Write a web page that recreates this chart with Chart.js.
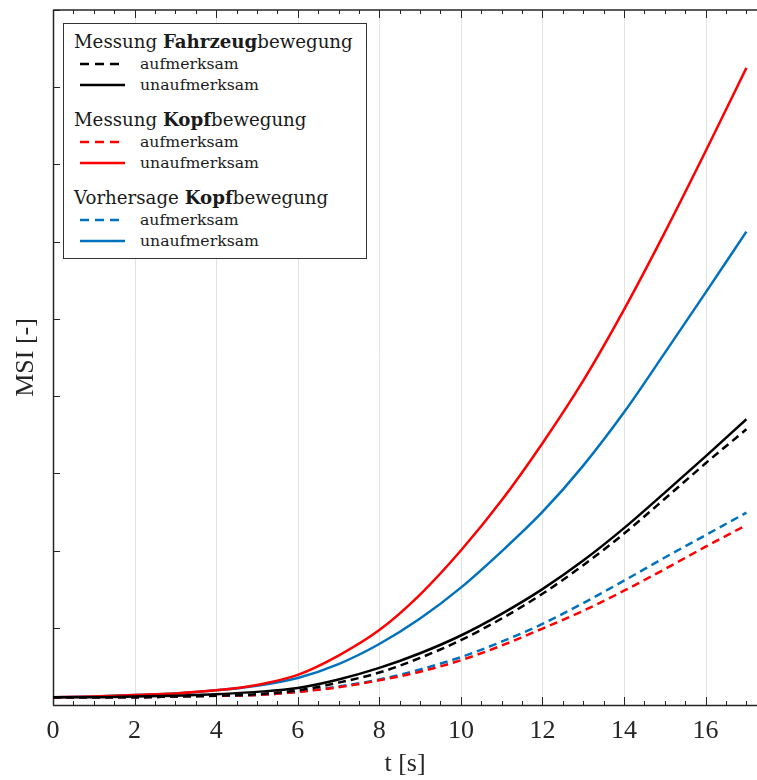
<!DOCTYPE html>
<html>
<head>
<meta charset="utf-8">
<script src="https://cdn.jsdelivr.net/npm/chart.js@4.4.1/dist/chart.umd.min.js"></script>
<style>
html, body { margin: 0; padding: 0; background: #fff; overflow: hidden; }
#wrap { position: relative; width: 757px; height: 780px; overflow: hidden; }
#msiChart { display: block; }
#legende {
    position: absolute; left: 63px; top: 23px; width: 304px; height: 236px;
    box-sizing: border-box; border: 1.5px solid #333; background: #fff;
    padding: 7px 0 0 10px; font-family: "DejaVu Serif", serif; color: #1a1a1a;
}
#legende .titel { font-size: 18.2px; line-height: 22px; white-space: nowrap; }
#legende .gruppe + .gruppe { margin-top: 14px; }
#legende .eintrag { font-size: 15.7px; line-height: 21px; height: 21px; display: flex; align-items: center; white-space: nowrap; }
#legende svg { margin-left: 6px; margin-right: 15px; }
</style>
</head>
<body>
<div id="wrap">
    <canvas id="msiChart" width="757" height="780"></canvas>
    <div id="legende"></div>
</div>
<script>
// Zeitachse in Sekunden
const zeit = [0, 1, 2, 3, 4, 5, 6, 7, 8, 9, 10, 11, 12, 13, 14, 15, 16, 17];

// MSI-Verläufe
const fahrzeugAufmerksam   = [0.10, 0.10, 0.10, 0.11, 0.12, 0.14, 0.19, 0.29, 0.42, 0.61, 0.84, 1.12, 1.44, 1.81, 2.22, 2.67, 3.13, 3.57];
const fahrzeugUnaufmerksam = [0.10, 0.10, 0.11, 0.12, 0.14, 0.17, 0.22, 0.33, 0.48, 0.67, 0.90, 1.18, 1.50, 1.87, 2.29, 2.75, 3.22, 3.70];
const kopfAufmerksam       = [0.10, 0.10, 0.10, 0.11, 0.12, 0.13, 0.17, 0.23, 0.32, 0.43, 0.58, 0.77, 0.99, 1.22, 1.48, 1.76, 2.05, 2.33];
const kopfUnaufmerksam     = [0.10, 0.11, 0.13, 0.15, 0.19, 0.26, 0.39, 0.64, 0.97, 1.43, 2.00, 2.65, 3.39, 4.20, 5.12, 6.12, 7.17, 8.25];
const vorhersageAufmerksam   = [0.10, 0.10, 0.10, 0.11, 0.12, 0.13, 0.17, 0.24, 0.33, 0.46, 0.62, 0.82, 1.05, 1.32, 1.61, 1.91, 2.20, 2.49];
const vorhersageUnaufmerksam = [0.10, 0.11, 0.13, 0.15, 0.19, 0.25, 0.35, 0.53, 0.79, 1.12, 1.52, 1.99, 2.50, 3.10, 3.79, 4.56, 5.34, 6.13];

// Achsenbeschriftung
const xTickWerte = [0, 2, 4, 6, 8, 10, 12, 14, 16];
const zustaende = ['aufmerksam', 'unaufmerksam'];

const SCHWARZ = '#000000';
const ROT = '#ff0000';
const BLAU = '#0072bd';
const STRICH = [8, 5];

// Titel der Legendengruppen: [normal, fett, normal]
const gruppen = [
    { titel: ['Messung ', 'Fahrzeug', 'bewegung'], farbe: SCHWARZ, daten: [fahrzeugAufmerksam, fahrzeugUnaufmerksam] },
    { titel: ['Messung ', 'Kopf', 'bewegung'], farbe: ROT, daten: [kopfAufmerksam, kopfUnaufmerksam] },
    { titel: ['Vorhersage ', 'Kopf', 'bewegung'], farbe: BLAU, daten: [vorhersageAufmerksam, vorhersageUnaufmerksam] }
];

const datasets = [];
gruppen.forEach(g => {
    g.daten.forEach((werte, i) => {
        datasets.push({
            label: g.titel.join('') + ' ' + zustaende[i],
            data: zeit.map((t, k) => ({ x: t, y: werte[k] })),
            borderColor: g.farbe,
            borderWidth: 2.5,
            borderDash: i === 0 ? STRICH : [],
            pointRadius: 0,
            cubicInterpolationMode: 'monotone',
            clip: false,
            fill: false
        });
    });
});

// Gitter, Achslinien, Striche nach innen, oberer Rahmen
const achsenStriche = {
    id: 'achsenStriche',
    beforeDatasetsDraw(chart) {
        const { ctx, chartArea: a, scales: { x, y } } = chart;
        ctx.save();
        ctx.strokeStyle = '#e3e3e3';
        ctx.lineWidth = 1;
        ctx.beginPath();
        xTickWerte.forEach(t => {
            if (t === 0) return;
            const px = Math.round(x.getPixelForValue(t)) + 0.5;
            ctx.moveTo(px, a.top);
            ctx.lineTo(px, a.bottom);
        });
        ctx.stroke();

        ctx.strokeStyle = '#262626';
        ctx.beginPath();
        for (let t = 0; t <= 17; t += 0.5) {
            const px = Math.round(x.getPixelForValue(t)) + 0.5;
            const len = t % 2 === 0 ? 8 : 4;
            ctx.moveTo(px, a.bottom);
            ctx.lineTo(px, a.bottom - len);
            ctx.moveTo(px, a.top);
            ctx.lineTo(px, a.top + len);
        }
        for (let v = 1; v <= 9; v++) {
            const py = Math.round(y.getPixelForValue(v)) + 0.5;
            ctx.moveTo(a.left, py);
            ctx.lineTo(a.left + 7, py);
        }
        ctx.stroke();

        // linke, untere und obere Achslinie
        ctx.lineWidth = 1.5;
        ctx.beginPath();
        ctx.moveTo(a.left + 0.5, a.top);
        ctx.lineTo(a.left + 0.5, a.bottom);
        ctx.moveTo(a.left, a.bottom + 0.5);
        ctx.lineTo(a.right, a.bottom + 0.5);
        ctx.moveTo(a.left, a.top);
        ctx.lineTo(a.right, a.top);
        ctx.stroke();
        ctx.restore();
    },
    // rechts offen: kein Rahmen hinter dem letzten Messpunkt
    afterDraw(chart) {
        const { ctx, chartArea: a, scales: { x } } = chart;
        const x0 = Math.ceil(x.getPixelForValue(17.1));
        ctx.clearRect(x0, a.top + 1, a.right - x0 + 2, a.bottom - a.top - 2);
    }
};

new Chart(document.getElementById('msiChart'), {
    type: 'line',
    data: { datasets },
    options: {
        responsive: false,
        animation: false,
        devicePixelRatio: 1,
        layout: { padding: { top: 10, right: 0, left: 0, bottom: 0 } },
        plugins: { legend: { display: false }, tooltip: { enabled: false } },
        scales: {
            x: {
                type: 'linear',
                min: 0,
                max: 17.26,
                afterBuildTicks: s => { s.ticks = xTickWerte.map(v => ({ value: v })); },
                ticks: {
                    color: '#262626',
                    padding: 3,
                    maxRotation: 0,
                    font: { family: 'Liberation Serif', size: 26 }
                },
                grid: { display: false },
                border: { display: false },
                title: {
                    display: true,
                    text: 't [s]',
                    color: '#262626',
                    padding: { top: 0, bottom: 0 },
                    font: { family: 'Liberation Serif', size: 26 }
                },
                afterFit: s => { s.height = 75; }
            },
            y: {
                min: 0,
                max: 9,
                ticks: { display: false, stepSize: 1 },
                grid: { display: false },
                border: { display: false },
                title: {
                    display: true,
                    text: 'MSI [-]',
                    color: '#262626',
                    padding: { top: 11, bottom: 0 },
                    font: { family: 'Liberation Serif', size: 26 }
                },
                afterFit: s => { s.width = 53; }
            }
        }
    },
    plugins: [achsenStriche]
});

// Legende mit Gruppenüberschriften
const legende = document.getElementById('legende');
gruppen.forEach(g => {
    const div = document.createElement('div');
    div.className = 'gruppe';
    const titel = document.createElement('div');
    titel.className = 'titel';
    titel.innerHTML = g.titel[0] + '<b>' + g.titel[1] + '</b>' + g.titel[2];
    div.appendChild(titel);
    zustaende.forEach((z, i) => {
        const zeile = document.createElement('div');
        zeile.className = 'eintrag';
        const dash = i === 0 ? 'stroke-dasharray="9 6"' : '';
        zeile.innerHTML = '<svg width="45" height="6"><line x1="0" y1="3" x2="45" y2="3" stroke="' + g.farbe +
            '" stroke-width="2.5" ' + dash + '/></svg><span>' + z + '</span>';
        div.appendChild(zeile);
    });
    legende.appendChild(div);
});
</script>
</body>
</html>
